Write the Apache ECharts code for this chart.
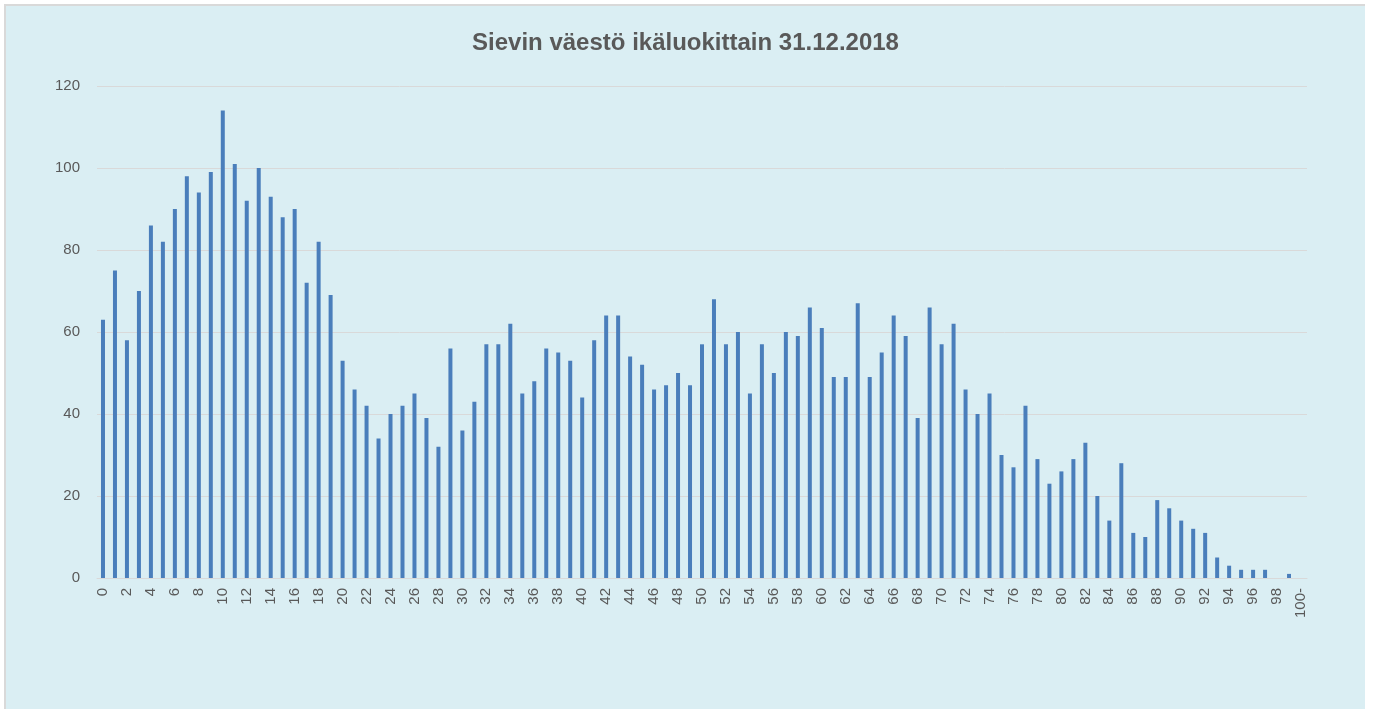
<!DOCTYPE html>
<html>
<head>
<meta charset="utf-8">
<title>Sievin väestö ikäluokittain 31.12.2018</title>
<script src="https://cdn.jsdelivr.net/npm/echarts@6/dist/echarts.min.js"></script>
<style>
  html, body { margin: 0; padding: 0; background: #ffffff; }
  #panel {
    position: absolute;
    left: 4px;
    top: 4px;
    width: 1359px;
    height: 703px;
    background: #DAEEF3;
    border-top: 2px solid #D9D9D9;
    border-left: 2px solid #D9D9D9;
  }
  #chart { width: 1359px; height: 703px; }
</style>
</head>
<body>
<div id="panel"><div id="chart"></div></div>
<script>
// ikäluokat 0..99 ja 100-
const ages = []
for (let i = 0; i < 100; i++) ages.push(String(i))
ages.push('100-')

// henkilömäärät ikäluokittain (luettu kuvasta)
const population = [
  63, 75, 58, 70, 86, 82, 90, 98, 94, 99,
  114, 101, 92, 100, 93, 88, 90, 72, 82, 69,
  53, 46, 42, 34, 40, 42, 45, 39, 32, 56,
  36, 43, 57, 57, 62, 45, 48, 56, 55, 53,
  44, 58, 64, 64, 54, 52, 46, 47, 50, 47,
  57, 68, 57, 60, 45, 57, 50, 60, 59, 66,
  61, 49, 49, 67, 49, 55, 64, 59, 39, 66,
  57, 62, 46, 40, 45, 30, 27, 42, 29, 23,
  26, 29, 33, 20, 14, 28, 11, 10, 19, 17,
  14, 12, 11, 5, 3, 2, 2, 2, 0, 1,
  0
]

const yTicks = [0, 20, 40, 60, 80, 100, 120]

const option = {
  backgroundColor: 'transparent',
  animation: false,
  title: {
    text: 'Sievin väestö ikäluokittain 31.12.2018',
    left: 'center',
    top: 20,
    textStyle: {
      fontFamily: 'Liberation Sans',
      fontSize: 24,
      fontWeight: 'bold',
      color: '#595959'
    }
  },
  grid: {
    left: 91,
    top: 80,
    width: 1210,
    height: 492
  },
  xAxis: {
    type: 'category',
    data: ages,
    boundaryGap: true,
    axisTick: { show: false },
    axisLine: {
      lineStyle: { color: '#D9D9D9', width: 1 }
    },
    axisLabel: {
      interval: 1,
      rotate: 90,
      margin: 10,
      fontFamily: 'Liberation Sans',
      fontSize: 15,
      color: '#595959'
    }
  },
  yAxis: {
    type: 'value',
    min: yTicks[0],
    max: yTicks[yTicks.length - 1],
    interval: 20,
    axisLine: { show: false },
    axisTick: { show: false },
    axisLabel: {
      margin: 17,
      fontFamily: 'Liberation Sans',
      fontSize: 15,
      color: '#595959'
    },
    splitLine: {
      lineStyle: { color: '#D9D9D9', width: 1 }
    }
  },
  series: [
    {
      name: 'Väestö',
      type: 'bar',
      data: population,
      barWidth: 4,
      itemStyle: {
        color: '#4A7EBB'
      }
    }
  ]
}

const chart = echarts.init(document.getElementById('chart'))
chart.setOption(option)
</script>
</body>
</html>
